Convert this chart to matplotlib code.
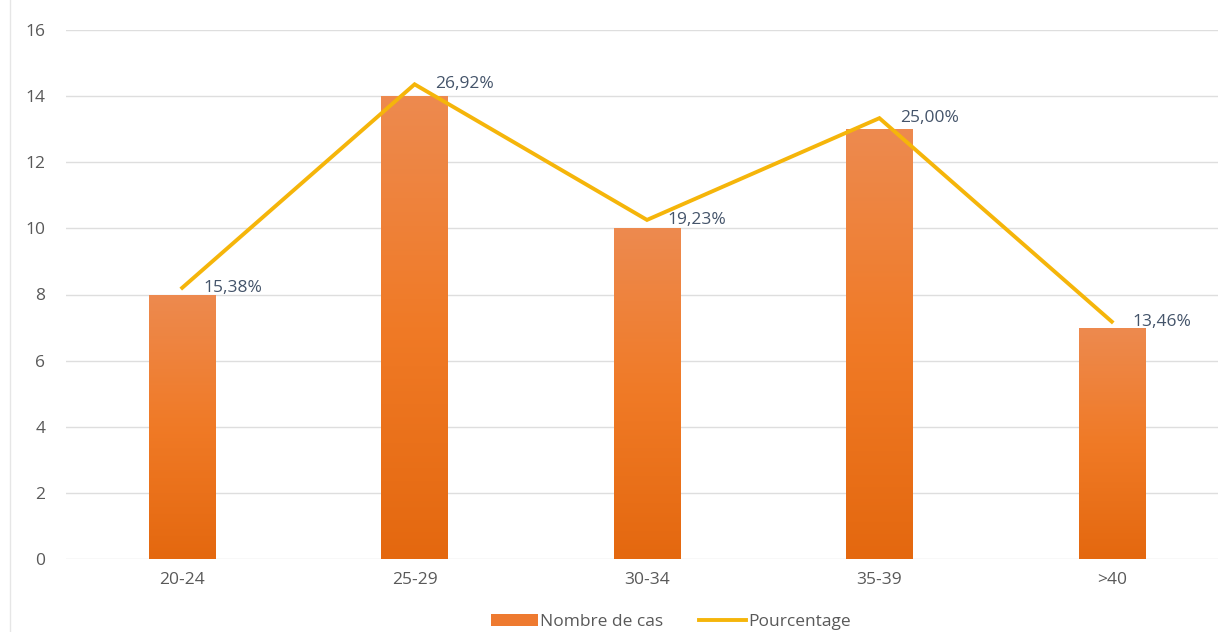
import matplotlib
matplotlib.use("Agg")
import matplotlib.pyplot as plt
import numpy as np
from matplotlib.colors import LinearSegmentedColormap
from matplotlib.lines import Line2D
from matplotlib.patches import Patch

plt.rcParams['font.family'] = ['Open Sans', 'DejaVu Sans']

# age groups, case counts and their share of the total
categories = ["20-24", "25-29", "30-34", "35-39", ">40"]
counts = [8, 14, 10, 13, 7]
percentages = [15.38, 26.92, 19.23, 25.00, 13.46]
pct_labels = ["15,38%", "26,92%", "19,23%", "25,00%", "13,46%"]
y_ticks = [0, 2, 4, 6, 8, 10, 12, 14, 16]

W, H = 1218, 632
fig = plt.figure(figsize=(W / 100, H / 100), dpi=100)
ax = fig.add_axes([66 / W, 73 / H, 1162 / W, 529 / H])

x = np.arange(len(categories))
bar_w = 0.285
bars = ax.bar(x, counts, width=bar_w, color="none", edgecolor="none", zorder=2)

# vertical orange gradient inside each bar
grad = LinearSegmentedColormap.from_list(
    "orange_grad", ["#e4680f", "#f07a26", "#ed8a4f"])
g = np.linspace(0, 1, 256).reshape(-1, 1)
for rect in bars:
    bx, bw, bh = rect.get_x(), rect.get_width(), rect.get_height()
    im = ax.imshow(g, cmap=grad, origin="lower", aspect="auto",
                   extent=[bx, bx + bw, 0, bh], zorder=2)
    im.set_clip_path(rect)

ax.set_xlim(-0.5, len(categories) - 0.5)
ax.set_ylim(0, 16)
ax.set_yticks(y_ticks)
ax.set_xticks(x)
ax.set_xticklabels(categories)
ax.tick_params(axis="both", length=0, labelsize=12.5, colors="#595959")
ax.tick_params(axis="y", pad=15)
ax.tick_params(axis="x", pad=9)
ax.grid(axis="y", color="#dedede", linewidth=1.0, zorder=0)
ax.set_axisbelow(True)
for s in ax.spines.values():
    s.set_visible(False)

# percentage line on a hidden secondary axis (0-30%)
ax2 = ax.twinx()
ax2.set_ylim(0, 30)
ax2.axis("off")
ax2.plot(x, percentages, color="#f5b50a", linewidth=2.8,
         solid_joinstyle="miter", zorder=3)
for xi, p, lab in zip(x, percentages, pct_labels):
    ax2.annotate(lab, (xi, p), xytext=(15, 0), textcoords="offset points",
                 ha="left", va="center", fontsize=12.5, color="#44546a")

# faint frame line at the far left
fig.add_artist(Line2D([10 / W, 10 / W], [0, 1], transform=fig.transFigure,
                      color="#e6e6e6", linewidth=1.0))

handles = [Patch(facecolor="#ee7a30", edgecolor="none"),
           Line2D([0], [0], color="#f5b50a", linewidth=2.8)]
fig.legend(handles, ["Nombre de cas", "Pourcentage"], loc="center",
           bbox_to_anchor=(671 / W, 1 - 622 / H), ncol=2, frameon=False,
           fontsize=12.5, handlelength=2.7, handletextpad=0.1,
           columnspacing=2.1, labelcolor="#595959")

fig.savefig("out.png", dpi=100)
